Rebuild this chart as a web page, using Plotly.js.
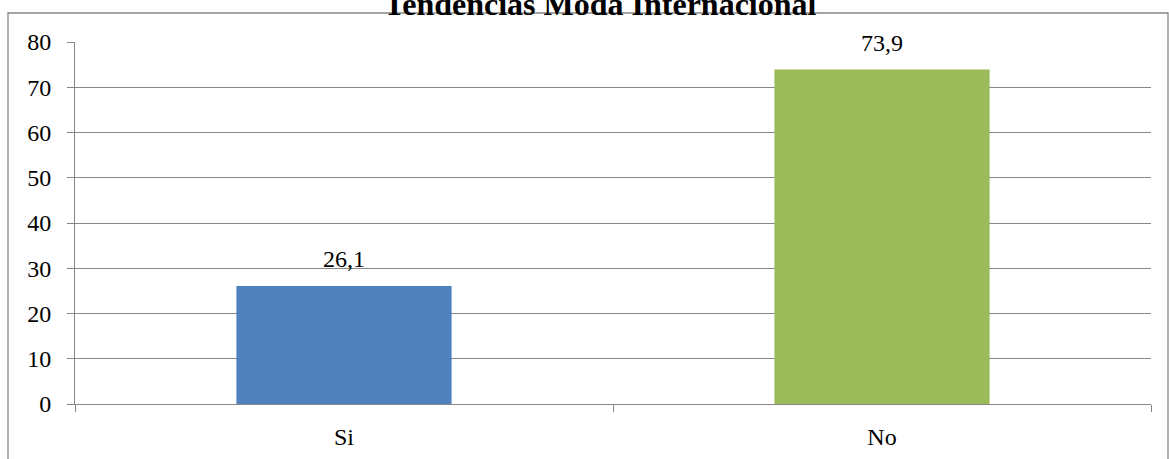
<!DOCTYPE html>
<html>
<head>
<meta charset="utf-8">
<script src="https://cdn.plot.ly/plotly-3.0.1.min.js"></script>
<style>html,body{margin:0;padding:0;background:#fff;}#chart{width:1169px;height:459px;}</style>
</head>
<body>
<div id="chart"></div>
<script>
const chartTitle = "Tendencias Moda Internacional";
const categories = ["Si", "No"];
const values = [26.1, 73.9];
const barColors = ["#4F81BD", "#9BBB59"];
const yTicks = [0, 10, 20, 30, 40, 50, 60, 70, 80];

const fontFamily = "'Times New Roman', 'Liberation Serif', serif";
const gridColor = "#868686";

const trace = {
  type: "bar",
  x: categories,
  y: values,
  width: 0.4,
  marker: {color: barColors},
  hoverinfo: "none"
};

const annotations = categories.map((c, i) => ({
  x: c, y: values[i], xref: "x", yref: "y",
  text: values[i].toFixed(1).replace(".", ","),
  showarrow: false, yanchor: "bottom", yshift: 12,
  font: {family: fontFamily, size: 24, color: "#000"}
}));

const layout = {
  width: 1169, height: 459,
  margin: {l: 75, r: 18, t: 42, b: 55},
  paper_bgcolor: "#fff", plot_bgcolor: "#fff",
  showlegend: false,
  title: {
    text: "<b>" + chartTitle + "</b>",
    font: {family: fontFamily, size: 32, color: "#000"},
    xref: "paper", x: 0.488, xanchor: "center",
    yref: "container", y: 0.992, yanchor: "middle"
  },
  font: {family: fontFamily, color: "#000"},
  xaxis: {
    type: "category",
    showgrid: false,
    showline: true, linecolor: gridColor, linewidth: 1,
    ticks: "outside", tickson: "boundaries", ticklen: 7, tickcolor: gridColor, tickwidth: 1,
    tickfont: {family: fontFamily, size: 24, color: "#000"},
    ticklabelstandoff: 11,
    fixedrange: true
  },
  yaxis: {
    range: [0, 80],
    tickvals: yTicks,
    ticktext: yTicks.map(String),
    showgrid: true, gridcolor: gridColor, gridwidth: 1,
    zeroline: false,
    showline: true, linecolor: gridColor, linewidth: 1,
    ticks: "outside", ticklen: 7, tickcolor: gridColor, tickwidth: 1,
    tickfont: {family: fontFamily, size: 24, color: "#000"},
    ticklabelstandoff: 11,
    fixedrange: true
  },
  annotations: annotations,
  shapes: [{
    type: "rect", xref: "paper", yref: "paper",
    x0: (8 - 75) / 1076, x1: (1168 - 75) / 1076,
    y0: -0.5, y1: (404 - 13) / 362,
    line: {color: gridColor, width: 1.3},
    fillcolor: "rgba(0,0,0,0)", layer: "below"
  }]
};

Plotly.newPlot("chart", [trace], layout, {displayModeBar: false, staticPlot: true});
</script>
</body>
</html>
